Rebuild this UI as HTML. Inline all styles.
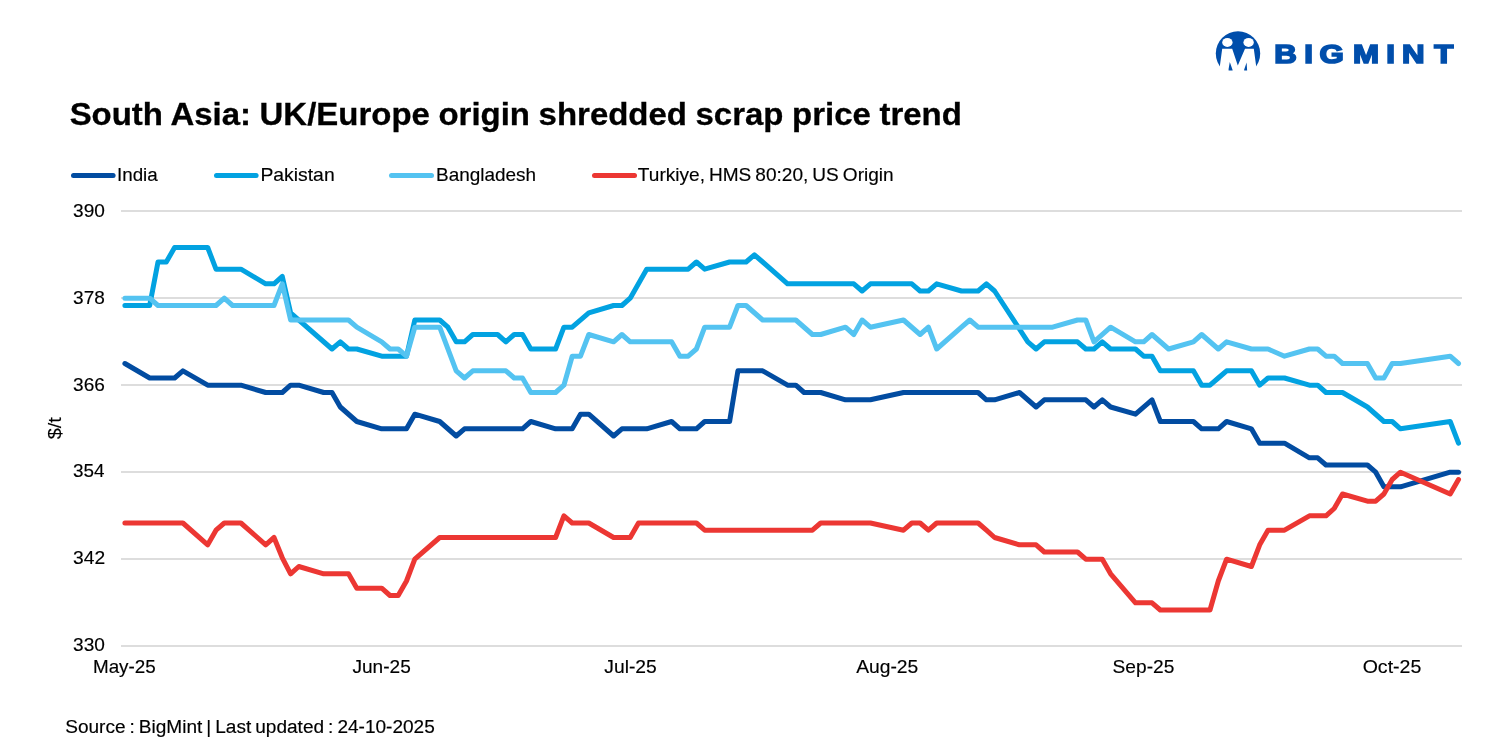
<!DOCTYPE html>
<html><head><meta charset="utf-8"><title>South Asia: UK/Europe origin shredded scrap price trend</title>
<style>
html,body{margin:0;padding:0;background:#fff;}
body{width:1500px;height:750px;overflow:hidden;font-family:"Liberation Sans",sans-serif;}
svg{display:block;}
text{font-family:"Liberation Sans",sans-serif;fill:#000;}
.ax{font-size:18px;stroke:#000;stroke-width:0.15px;}
.lg{font-size:18px;stroke:#000;stroke-width:0.15px;}
.title{font-size:31px;font-weight:bold;stroke:#000;stroke-width:0.3px;}
.src{font-size:18px;stroke:#000;stroke-width:0.15px;}
.brand{font-size:25px;font-weight:bold;fill:#004EAB;stroke:#004EAB;stroke-width:1.6px;stroke-linejoin:miter;stroke-miterlimit:2;}
</style></head><body>
<svg width="1500" height="750" viewBox="0 0 1500 750">
<rect width="1500" height="750" fill="#fff"/>
<!-- logo -->
<clipPath id="lc"><rect x="1200" y="20" width="80" height="50.6"/></clipPath>
<g id="logo">
<circle cx="1238" cy="53.4" r="22.2" fill="#004EAB" clip-path="url(#lc)"/>
<ellipse cx="1227.4" cy="42.4" rx="5.2" ry="4.5" fill="#fff"/>
<ellipse cx="1248.6" cy="42.4" rx="5.2" ry="4.5" fill="#fff"/>
<path d="M1222.2 48.8 L1232.2 48.8 L1237.8 65.6 L1245 48.8 L1253.8 48.8 L1257.5 76 L1247.5 76 L1246.6 62.4 L1244.2 69.6 L1244 76 L1232.6 76 L1232.6 70 L1229.8 62 L1228.6 69 L1228.6 76 L1218.5 76 Z" fill="#fff"/>
<text class="brand" transform="scale(1.25,1)" text-anchor="middle" x="1028.40 1046.96 1065.36 1092.80 1112.56 1130.64 1154.96" y="63.2">BIGMINT</text>
</g>
<text transform="translate(69.64,125.3) scale(1.0634,1)" class="title" style="word-spacing:-0.5px">South Asia: UK/Europe origin shredded scrap price trend</text>
<line x1="73.5" x2="113.1" y1="175.4" y2="175.4" stroke="#024CA1" stroke-width="5" stroke-linecap="round"/>
<line x1="216.5" x2="256.1" y1="175.4" y2="175.4" stroke="#02A2E1" stroke-width="5" stroke-linecap="round"/>
<line x1="391.5" x2="431.5" y1="175.4" y2="175.4" stroke="#54C3F1" stroke-width="5" stroke-linecap="round"/>
<line x1="594.5" x2="634.5" y1="175.4" y2="175.4" stroke="#EC3733" stroke-width="5" stroke-linecap="round"/>
<text transform="translate(116.97,180.7) scale(1.0443,1)" class="lg">India</text>
<text transform="translate(260.39,180.7) scale(1.0762,1)" class="lg">Pakistan</text>
<text transform="translate(436.02,180.7) scale(1.0530,1)" class="lg">Bangladesh</text>
<text transform="translate(637.87,180.7) scale(1.0592,1)" class="lg" style="word-spacing:-1.2px">Turkiye, HMS 80:20, US Origin</text>
<line x1="121" x2="1462" y1="211.0" y2="211.0" stroke="#D2D2D2" stroke-width="1.5"/>
<line x1="121" x2="1462" y1="298.0" y2="298.0" stroke="#D2D2D2" stroke-width="1.5"/>
<line x1="121" x2="1462" y1="385.0" y2="385.0" stroke="#D2D2D2" stroke-width="1.5"/>
<line x1="121" x2="1462" y1="472.0" y2="472.0" stroke="#D2D2D2" stroke-width="1.5"/>
<line x1="121" x2="1462" y1="559.0" y2="559.0" stroke="#D2D2D2" stroke-width="1.5"/>
<line x1="121" x2="1462" y1="646.0" y2="646.0" stroke="#D2D2D2" stroke-width="1.5"/>
<text transform="translate(73.11,217.0) scale(1.0596,1)" class="ax">390</text>
<text transform="translate(73.11,303.8) scale(1.0596,1)" class="ax">378</text>
<text transform="translate(73.11,390.6) scale(1.0596,1)" class="ax">366</text>
<text transform="translate(73.11,477.4) scale(1.0504,1)" class="ax">354</text>
<text transform="translate(73.10,564.2) scale(1.0690,1)" class="ax">342</text>
<text transform="translate(73.11,651.0) scale(1.0596,1)" class="ax">330</text>
<text transform="translate(61,428.3) rotate(-90) scale(1.1,1.05)" text-anchor="middle" class="ax">$/t</text>
<text transform="translate(92.93,673.2) scale(1.0476,1)" class="ax">May-25</text>
<text transform="translate(352.43,673.2) scale(1.0611,1)" class="ax">Jun-25</text>
<text transform="translate(604.33,673.2) scale(1.0708,1)" class="ax">Jul-25</text>
<text transform="translate(856.20,673.2) scale(1.0707,1)" class="ax">Aug-25</text>
<text transform="translate(1112.60,673.2) scale(1.0637,1)" class="ax">Sep-25</text>
<text transform="translate(1362.69,673.2) scale(1.0857,1)" class="ax">Oct-25</text>
<polyline points="124.9,363.5 149.7,378.0 174.6,378.0 182.9,370.8 207.7,385.2 240.9,385.2 265.7,392.5 282.3,392.5 290.6,385.2 298.8,385.2 323.7,392.5 332.0,392.5 340.3,407.0 356.8,421.5 381.7,428.8 406.5,428.8 414.8,414.2 439.7,421.5 456.2,436.0 464.5,428.8 522.5,428.8 530.8,421.5 555.6,428.8 572.2,428.8 580.5,414.2 588.8,414.2 613.6,436.0 621.9,428.8 646.7,428.8 671.6,421.5 679.9,428.8 696.4,428.8 704.7,421.5 729.6,421.5 737.9,370.8 762.7,370.8 787.6,385.2 795.8,385.2 804.1,392.5 820.7,392.5 845.5,399.8 870.4,399.8 903.5,392.5 978.1,392.5 986.4,399.8 994.6,399.8 1019.5,392.5 1036.1,407.0 1044.3,399.8 1085.8,399.8 1094.0,407.0 1102.3,399.8 1110.6,407.0 1135.5,414.2 1152.0,399.8 1160.3,421.5 1193.4,421.5 1201.7,428.8 1218.3,428.8 1226.6,421.5 1251.4,428.8 1259.7,443.2 1284.5,443.2 1309.4,457.8 1317.7,457.8 1326.0,465.0 1367.4,465.0 1375.7,472.2 1383.9,486.8 1400.5,486.8 1450.2,472.2 1458.5,472.2" fill="none" stroke="#024CA1" stroke-width="5" stroke-linecap="round" stroke-linejoin="round"/>
<polyline points="124.9,305.5 149.7,305.5 158.0,262.0 166.3,262.0 174.6,247.5 207.7,247.5 216.0,269.2 240.9,269.2 265.7,283.8 274.0,283.8 282.3,276.5 290.6,312.8 332.0,349.0 340.3,341.8 348.5,349.0 356.8,349.0 381.7,356.2 406.5,356.2 414.8,320.0 439.7,320.0 447.9,327.2 456.2,341.8 464.5,341.8 472.8,334.5 497.6,334.5 505.9,341.8 514.2,334.5 522.5,334.5 530.8,349.0 555.6,349.0 563.9,327.2 572.2,327.2 588.8,312.8 613.6,305.5 621.9,305.5 630.2,298.2 646.7,269.2 688.2,269.2 696.4,262.0 704.7,269.2 729.6,262.0 746.1,262.0 754.4,254.8 787.6,283.8 853.8,283.8 862.1,291.0 870.4,283.8 911.8,283.8 920.1,291.0 928.4,291.0 936.7,283.8 961.5,291.0 978.1,291.0 986.4,283.8 994.6,291.0 1027.8,341.8 1036.1,349.0 1044.3,341.8 1077.5,341.8 1085.8,349.0 1094.0,349.0 1102.3,341.8 1110.6,349.0 1135.5,349.0 1143.7,356.2 1152.0,356.2 1160.3,370.8 1193.4,370.8 1201.7,385.2 1210.0,385.2 1218.3,378.0 1226.6,370.8 1251.4,370.8 1259.7,385.2 1268.0,378.0 1284.5,378.0 1309.4,385.2 1317.7,385.2 1326.0,392.5 1342.5,392.5 1367.4,407.0 1383.9,421.5 1392.2,421.5 1400.5,428.8 1450.2,421.5 1458.5,443.2" fill="none" stroke="#02A2E1" stroke-width="5" stroke-linecap="round" stroke-linejoin="round"/>
<polyline points="124.9,298.2 149.7,298.2 158.0,305.5 216.0,305.5 224.3,298.2 232.6,305.5 274.0,305.5 282.3,283.8 290.6,320.0 348.5,320.0 356.8,327.2 381.7,341.8 390.0,349.0 398.2,349.0 406.5,356.2 414.8,327.2 439.7,327.2 456.2,370.8 464.5,378.0 472.8,370.8 505.9,370.8 514.2,378.0 522.5,378.0 530.8,392.5 555.6,392.5 563.9,385.2 572.2,356.2 580.5,356.2 588.8,334.5 613.6,341.8 621.9,334.5 630.2,341.8 671.6,341.8 679.9,356.2 688.2,356.2 696.4,349.0 704.7,327.2 729.6,327.2 737.9,305.5 746.1,305.5 762.7,320.0 795.8,320.0 812.4,334.5 820.7,334.5 845.5,327.2 853.8,334.5 862.1,320.0 870.4,327.2 903.5,320.0 920.1,334.5 928.4,327.2 936.7,349.0 961.5,327.2 969.8,320.0 978.1,327.2 1052.6,327.2 1077.5,320.0 1085.8,320.0 1094.0,341.8 1110.6,327.2 1135.5,341.8 1143.7,341.8 1152.0,334.5 1168.6,349.0 1193.4,341.8 1201.7,334.5 1218.3,349.0 1226.6,341.8 1251.4,349.0 1268.0,349.0 1284.5,356.2 1309.4,349.0 1317.7,349.0 1326.0,356.2 1334.2,356.2 1342.5,363.5 1367.4,363.5 1375.7,378.0 1383.9,378.0 1392.2,363.5 1400.5,363.5 1450.2,356.2 1458.5,363.5" fill="none" stroke="#54C3F1" stroke-width="5" stroke-linecap="round" stroke-linejoin="round"/>
<polyline points="124.9,523.0 182.9,523.0 207.7,544.8 216.0,530.2 224.3,523.0 240.9,523.0 265.7,544.8 274.0,537.5 282.3,557.8 290.6,573.8 298.8,566.5 323.7,573.8 348.5,573.8 356.8,588.2 381.7,588.2 390.0,595.5 398.2,595.5 406.5,581.0 414.8,559.2 439.7,537.5 555.6,537.5 563.9,515.8 572.2,523.0 588.8,523.0 613.6,537.5 630.2,537.5 638.5,523.0 696.4,523.0 704.7,530.2 812.4,530.2 820.7,523.0 870.4,523.0 903.5,530.2 911.8,523.0 920.1,523.0 928.4,530.2 936.7,523.0 978.1,523.0 986.4,530.2 994.6,537.5 1019.5,544.8 1036.1,544.8 1044.3,552.0 1077.5,552.0 1085.8,559.2 1102.3,559.2 1110.6,573.8 1135.5,602.8 1152.0,602.8 1160.3,610.0 1210.0,610.0 1218.3,581.0 1226.6,559.2 1251.4,566.5 1259.7,544.8 1268.0,530.2 1284.5,530.2 1309.4,515.8 1326.0,515.8 1334.2,508.5 1342.5,494.0 1367.4,501.2 1375.7,501.2 1383.9,494.0 1392.2,479.5 1400.5,472.2 1450.2,494.0 1458.5,479.5" fill="none" stroke="#EC3733" stroke-width="5" stroke-linecap="round" stroke-linejoin="round"/>
<text transform="translate(65.21,733.3) scale(1.0583,1)" class="src" style="word-spacing:-1.2px">Source : BigMint | Last updated : 24-10-2025</text>
</svg>
</body></html>
